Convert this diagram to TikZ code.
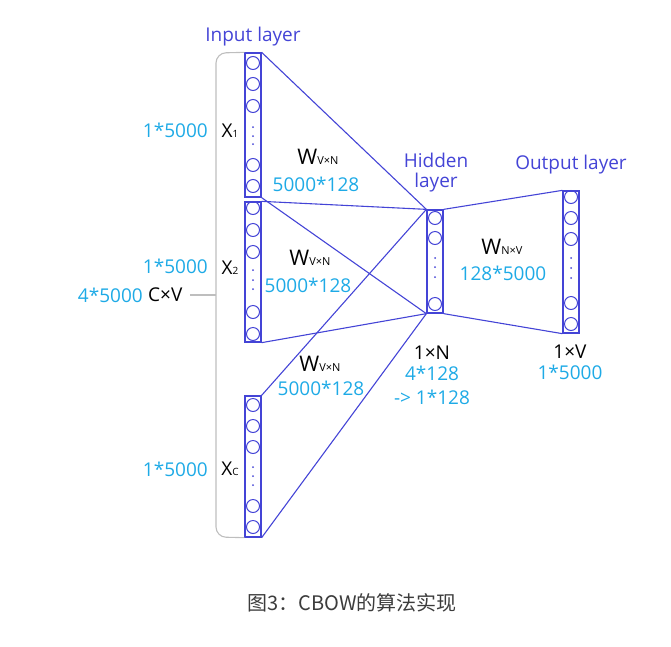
\documentclass[tikz,border=0pt]{standalone}
\usepackage{fontspec}
\setmainfont{Open Sans}
\newfontfamily\cjk{Noto Sans CJK SC}
\definecolor{nblue}{RGB}{68,68,214}
\definecolor{ncyan}{RGB}{30,170,230}
\definecolor{ngray}{RGB}{190,190,190}
\definecolor{capgray}{RGB}{60,60,60}
\begin{document}
\begin{tikzpicture}[x=1pt,y=-1pt,
  col/.style={draw=nblue, line width=1.3pt, minimum width=16pt, inner sep=0pt},
  neu/.style={circle, draw=nblue, line width=1pt, minimum size=13pt, inner sep=0pt},
  dotn/.style={circle, fill=nblue, minimum size=2pt, inner sep=0pt},
  wline/.style={draw=nblue, line width=1.1pt},
  big/.style={font=\fontsize{19}{22}\selectfont, inner sep=0pt},
  bluetxt/.style={big, text=nblue},
  cyantxt/.style={big, text=ncyan},
  blacktxt/.style={big, text=black},
  wtxt/.style={font=\fontsize{21.5}{24}\selectfont, inner sep=0pt, text=black},
  bracket/.style={draw=ngray, line width=1.1pt}]
\useasboundingbox (0,0) rectangle (671,646);
\newcommand{\smallsub}[1]{{\fontsize{10}{10}\selectfont #1}}
\newcommand{\wsub}[1]{{\fontsize{11}{11}\selectfont #1}}

% columns
\node[col, minimum height=144pt] (x1) at (253,125) {};
\node[col, minimum height=140pt] (x2) at (253,272) {};
\node[col, minimum height=141pt] (xc) at (253,466.5) {};
\node[col, minimum height=103pt] (h) at (435,261.5) {};
\node[col, minimum height=142pt] (o) at (571,262) {};

% neurons
\foreach \y [count=\i] in {63,84,106,165,186} \node[neu] (x1n\i) at (253,\y) {};
\foreach \y [count=\i] in {127,136,144} \node[dotn] (x1d\i) at (253,\y) {};
\foreach \y [count=\i] in {208,230,252,312,334} \node[neu] (x2n\i) at (253,\y) {};
\foreach \y [count=\i] in {270,280,289} \node[dotn] (x2d\i) at (253,\y) {};
\foreach \y [count=\i] in {405,426,447,506,527} \node[neu] (xcn\i) at (253,\y) {};
\foreach \y [count=\i] in {467,476,485} \node[dotn] (xcd\i) at (253,\y) {};
\foreach \y [count=\i] in {218,238,304} \node[neu] (hn\i) at (435,\y) {};
\foreach \y [count=\i] in {258,267,277} \node[dotn] (hd\i) at (435,\y) {};
\foreach \y [count=\i] in {197,218,239,303,324} \node[neu] (on\i) at (571,\y) {};
\foreach \y [count=\i] in {258,268,278} \node[dotn] (od\i) at (571,\y) {};

% weight lines
\foreach \c in {x1,x2,xc} {
  \draw[wline] (\c.north east) -- (h.north west);
  \draw[wline] (\c.south east) -- (h.south west);
}
\draw[wline] (h.north east) -- (o.north west);
\draw[wline] (h.south east) -- (o.south west);

% bracket
\coordinate (bt) at (216,295);
\coordinate (bl) at (190,295);
\draw[bracket, rounded corners=10pt] (x1.north west) -- (216,53) -- (216,537) -- (xc.south west);
\draw[bracket] (bl) -- (bt);

% labels
\node[bluetxt] (inl) at (253,37) {Input layer};
\node[bluetxt] (hid1) at (436,160) {Hidden};
\node[bluetxt] (hid2) at (436,183) {layer};
\node[bluetxt] (outl) at (571,165) {Output layer};

\node[blacktxt] (lx1) at (230,131) {X\smallsub{1}};
\node[blacktxt] (lx2) at (230,268) {X\smallsub{2}};
\node[blacktxt] (lxc) at (230,469) {X\smallsub{C}};

\node[cyantxt, anchor=east] (s1) at (208,130) {1*5000};
\node[cyantxt, anchor=east] (s2) at (208,266) {1*5000};
\node[cyantxt, anchor=east] (s3) at (208,469) {1*5000};
\node[cyantxt, anchor=east] (s4) at (143,295) {4*5000};
\node[blacktxt, anchor=west] (cv) at (148,295) {C×V};

\node[wtxt] (w1) at (318,157) {W\wsub{V×N}};
\node[cyantxt] (w1s) at (316,184) {5000*128};
\node[wtxt] (w2) at (310,258) {W\wsub{V×N}};
\node[cyantxt] (w2s) at (308,285) {5000*128};
\node[wtxt] (w3) at (320,364) {W\wsub{V×N}};
\node[cyantxt] (w3s) at (321,388) {5000*128};

\node[wtxt] (wo) at (502,247) {W\wsub{N×V}};
\node[cyantxt] (wos) at (503,273) {128*5000};

\node[blacktxt] (hn) at (432,353) {1×N};
\node[cyantxt] (hs1) at (432,373) {4*128};
\node[cyantxt] (hs2) at (432,397) {-> 1*128};

\node[blacktxt] (ov) at (570,352) {1×V};
\node[cyantxt] (os) at (570,372) {1*5000};

\node[font=\cjk\fontsize{20}{24}\selectfont, text=capgray, inner sep=0pt] (cap) at (352,603) {图3：CBOW的算法实现};
\end{tikzpicture}
\end{document}
